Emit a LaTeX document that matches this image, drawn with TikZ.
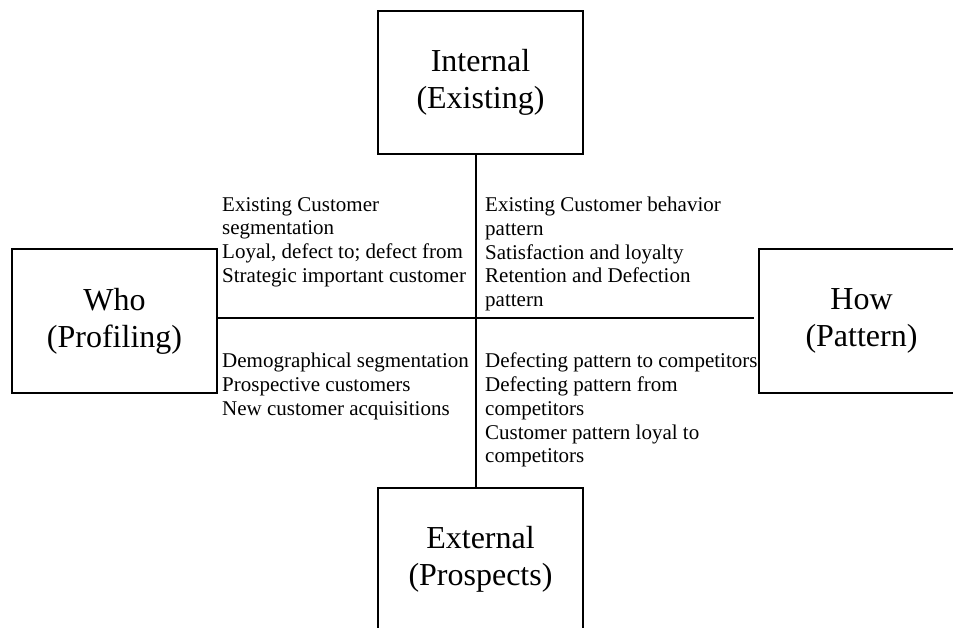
\documentclass[tikz,border=0pt]{standalone}
\usepackage{fontspec}
\setmainfont{Liberation Serif}
\begin{document}
\begin{tikzpicture}[x=1pt,y=-1pt,
  bigbox/.style={draw,line width=2pt,minimum width=205pt,minimum height=143pt,inner sep=0pt,align=center,
    font=\fontsize{32}{37}\selectfont},
  smalltext/.style={anchor=north west,inner sep=0pt,align=left,font=\fontsize{21}{23.7}\selectfont},
  link/.style={line width=1.8pt}]
\useasboundingbox (0,0) rectangle (953,628);
\begin{scope}
\clip (0,0) rectangle (953,628);
\node[bigbox] (top) at (480.5,82.5) {Internal\\(Existing)};
\node[bigbox] (left) at (114.5,321) {Who\\(Profiling)};
\node[bigbox] (right) at (861.5,321) {How\\(Pattern)};
\node[bigbox] (bottom) at (480.5,559.5) {External\\(Prospects)};
\end{scope}
\coordinate (c) at (476,318);
\draw[link] (c |- top.south) -- (c |- bottom.north);
\draw[link,shorten >=4pt] (c -| left.east) -- (c -| right.west);
\node[smalltext] (tl) at (222,197) {Existing Customer\\segmentation\\Loyal, defect to; defect from\\Strategic important customer};
\node[smalltext] (tr) at (485,197) {Existing Customer behavior\\pattern\\Satisfaction and loyalty\\Retention and Defection\\pattern};
\node[smalltext] (bl) at (222,353) {Demographical segmentation\\Prospective customers\\New customer acquisitions};
\node[smalltext] (br) at (485,353) {Defecting pattern to competitors\\Defecting pattern from\\competitors\\Customer pattern loyal to\\competitors};
\end{tikzpicture}
\end{document}
